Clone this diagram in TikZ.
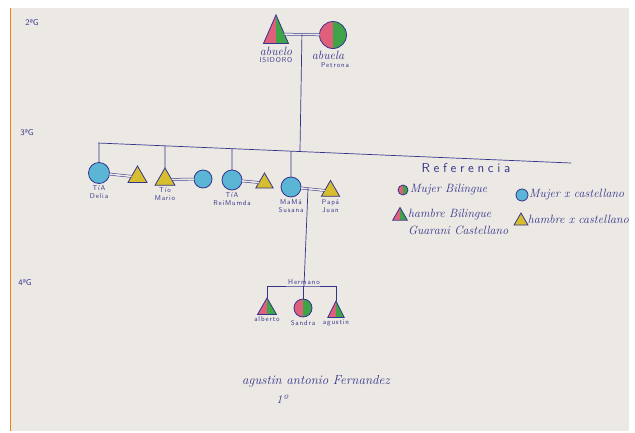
\documentclass[tikz,border=0pt]{standalone}
\usepackage{fontspec}
\usetikzlibrary{positioning,shapes.geometric,calc}

\newfontfamily\blockfont{lmsans10-regular.otf}[LetterSpace=12]
\newfontfamily\reffont{lmsans10-regular.otf}[LetterSpace=28]

\definecolor{ink}{HTML}{34348C}
\definecolor{paper}{HTML}{ECE8E4}
\definecolor{rosa}{HTML}{E0607C}
\definecolor{verde}{HTML}{3FA447}
\definecolor{celeste}{HTML}{5BB6D6}
\definecolor{amarillo}{HTML}{D7BE2E}

\begin{document}
\begin{tikzpicture}[
        x=1pt, y=-1pt,
        every node/.style={text=ink},
        person/.style={
            draw=ink,
            line width=0.8pt,
            inner sep=0pt,
            outer sep=0pt
        },
        mujer/.style={person, circle, minimum size=20pt},
        hombre/.style={person, regular polygon, regular polygon sides=3, minimum size=22pt},
        biling/.style={
            path picture={
                \fill[rosa] (path picture bounding box.south west) rectangle (path picture bounding box.north);
                \fill[verde] (path picture bounding box.south) rectangle (path picture bounding box.north east);
            }
        },
        castM/.style={fill=celeste},
        castH/.style={fill=amarillo},
        linea/.style={draw=ink, line width=0.7pt},
        casados/.style={draw=ink, line width=0.5pt, double=paper, double distance=1.6pt},
        hand/.style={font=\fontsize{12}{12}\selectfont\itshape},
        block/.style={font=\fontsize{7}{8}\selectfont\blockfont, align=center, inner sep=1pt},
        gen/.style={font=\fontsize{8.5}{8.5}\selectfont\sffamily}
    ]
        % paper
        \fill[white] (0,0) rectangle (635,432);
        \fill[paper] (10,8) rectangle (629,431);
        \draw[orange!70!brown, line width=0.6pt] (10,8) -- (10,431);

        % generations
        \node[gen] (g2) at (32,22) {2ªG};
        \node[gen] (g3) at (27,133) {3ªG};
        \node[gen] (g4) at (25,282) {4ªG};

        % 2nd generation
        \node[hombre, biling, minimum size=29pt, yscale=1.32] (abuelo) at (276,34) {};
        \node[mujer, biling, minimum size=27pt] (abuela) at (333,35) {};
        \node[hand, below=3pt of abuelo, inner sep=0pt] (lAbuelo) {abuelo};
        \node[block, below=1pt of lAbuelo] (lIsidoro) {ISIDORO};
        \node[hand, below=2pt of abuela, xshift=-5pt, inner sep=0pt] (lAbuela) {abuela};
        \node[block, below=2pt of lAbuela, xshift=7pt] (lPetrona) {Petrona};

        % 3rd generation
        \coordinate (barL) at (98,143);
        \coordinate (barR) at (571,163);
        \node[mujer, castM, minimum size=21pt] (delia) at (99,173) {};
        \node[hombre, castH] (tioD) at (137.5,177) {};
        \node[hombre, castH, minimum size=23pt] (mario) at (165,179.5) {};
        \node[mujer, castM, minimum size=18pt] (tiaM) at (203,179) {};
        \node[mujer, castM] (reimunda) at (232,180) {};
        \node[hombre, castH, minimum size=20pt] (tioR) at (264.5,183) {};
        \node[mujer, castM] (mama) at (291,187) {};
        \node[hombre, castH, minimum size=21pt] (papa) at (330.5,191) {};

        \node[block, below=1pt of delia] {TíA\\Delia};
        \node[block, below=1pt of mario] {Tío\\Mario};
        \node[block, below=1pt of reimunda] {TíA\\ReiMumda};
        \node[block, below=1pt of mama] {MaMá\\Susana};
        \node[block, below=2pt of papa] {Papá\\Juan};

        % 4th generation
        \node[hombre, biling] (alberto) at (267,309) {};
        \node[mujer, biling, minimum size=18pt] (sandra) at (303,308) {};
        \node[hombre, biling, minimum size=19pt, yscale=1.15] (agustin) at (336,312) {};
        \coordinate (hbar) at (304,286);
        \node[block, above=0pt of hbar] (lHermano) {Hermano};
        \node[block, below=1pt of alberto] {alberto};
        \node[block, below=2pt of sandra] {Sandra};
        \node[block, below=1pt of agustin] {agustin};

        % couples
        \draw[casados] (abuelo) -- (abuela);
        \draw[casados] (delia) -- (tioD);
        \draw[casados] (mario) -- (tiaM);
        \draw[casados] (reimunda) -- (tioR);
        \draw[casados] (mama) -- (papa);

        % descent
        \coordinate (gp) at ($(abuelo.east)!0.5!(abuela.west)$);
        \coordinate (gpdown) at ($(gp)+(-2,120)$);
        \draw[linea] (barL) -- (barR);
        \draw[linea] (gp) -- (intersection of gp--gpdown and barL--barR);
        \foreach \p in {delia, mario, reimunda, mama}
            \draw[linea] (\p.north) -- (intersection of \p.north--\p.south and barL--barR);

        \coordinate (pm) at ($(mama.east)!0.3!(papa.west)$);
        \draw[linea] (pm) -- (hbar);
        \draw[linea] (alberto.north) |- (hbar) -| (agustin.north);
        \draw[linea] (sandra.north) -- (sandra.north |- hbar);

        % referencia
        \node[font=\fontsize{13}{13}\selectfont\reffont] (ref) at (466,168) {Referencia};
        \node[mujer, biling, minimum size=10pt] (leyMB) at (403,190) {};
        \node[hand, right=1pt of leyMB, inner sep=1pt] (tMB) {Mujer Bilingue};
        \node[mujer, castM, minimum size=12pt] (leyMC) at (522,195) {};
        \node[hand, right=0pt of leyMC, inner sep=1pt] (tMC) {Mujer x castellano};
        \node[hombre, biling, minimum size=17pt] (leyHB) at (400,216) {};
        \node[hand, right=2pt of leyHB, inner sep=1pt, align=left, anchor=north west, yshift=8pt] (tHB) {hambre Bilingue\\[5pt]Guarani Castellano};
        \node[hombre, castH, minimum size=16pt] (leyHC) at (521,221) {};
        \node[hand, right=1pt of leyHC, inner sep=1pt, yshift=2pt] (tHC) {hambre x castellano};

        % firma
        \node[hand, font=\fontsize{13}{13}\selectfont\itshape] (firma) at (316,381) {agustin antonio Fernandez};
        \node[hand] (curso) at (282,399) {1º};
    \end{tikzpicture}
\end{document}
